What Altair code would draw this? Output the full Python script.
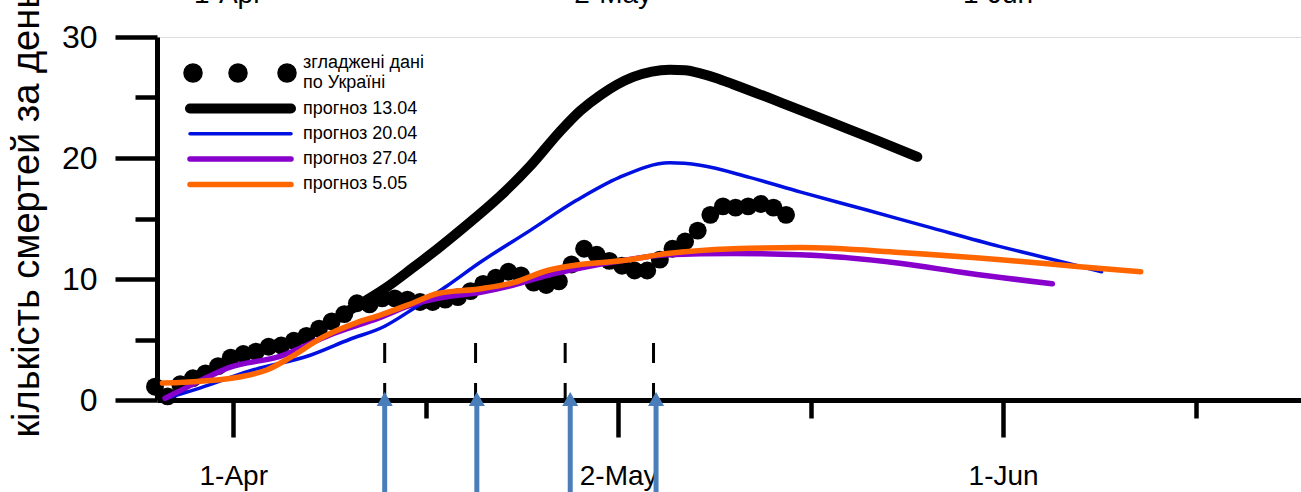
import altair as alt
import pandas as pd

# x values are days counted from 1 April (day 0 = 1-Apr)
dot_day = list(range(-6, 45))
dot_val = [1.1, 0.3, 1.3, 1.8, 2.2, 2.8, 3.5, 3.8, 4.0, 4.4, 4.5, 4.9, 5.3, 5.9, 6.5, 7.1,
           8.0, 7.9, 8.4, 8.4, 8.3, 8.1, 8.1, 8.3, 8.5, 9.0, 9.6, 10.1, 10.6, 10.3, 9.7,
           9.5, 9.8, 11.2, 12.5, 12.0, 11.5, 11.1, 10.7, 10.7, 11.6, 12.5, 13.1, 14.0,
           15.3, 16.0, 15.9, 16.0, 16.2, 15.9, 15.3]

black_day = [8.7, 10.2, 12.2, 14.4, 16.4, 18.4, 21.3, 23.7, 26.1, 27.7, 29.3, 31.9,
             34.8, 36.0, 37.2, 38.5, 39.8, 43.8, 47.7, 51.1, 54.4]
black_val = [7.0, 7.9, 9.2, 10.9, 12.5, 14.2, 16.8, 19.3, 22.2, 23.9, 25.2, 26.7,
             27.3, 27.25, 27.0, 26.6, 26.1, 24.5, 22.9, 21.5, 20.1]

blue_day = [-5.2, -2.4, 1.5, 6.3, 9.4, 12.2, 14.4, 17.1, 19.8, 23.7, 27.4, 30.8, 34.8,
            37.2, 41.1, 45.1, 50.4, 55.6, 60.9, 63.6, 66.3, 69.0]
blue_val = [0.1, 1.0, 2.4, 3.7, 5.0, 6.1, 7.5, 9.4, 11.4, 14.0, 16.5, 18.4, 19.6,
            19.4, 18.4, 17.2, 15.7, 14.2, 12.7, 12.0, 11.3, 10.6]

purple_day = [-5.2, -2.4, -0.1, 3.9, 7.9, 11.8, 14.4, 16.4, 19.8, 22.4, 25.1, 27.7,
              30.9, 34.6, 39.8, 45.1, 53.0, 58.3, 65.1]
purple_val = [0.15, 1.6, 2.7, 3.6, 5.4, 6.8, 7.9, 8.4, 8.9, 9.5, 10.3, 10.9,
              11.5, 12.0, 12.1, 12.0, 11.3, 10.5, 9.6]

orange_day = [-5.4, -2.4, 0.7, 2.9, 4.7, 7.3, 10.0, 11.8, 14.4, 16.4, 19.8, 22.4, 25.1,
              27.7, 30.9, 34.6, 39.8, 45.1, 53.0, 61.0, 67.5, 72.1]
orange_val = [1.4, 1.55, 1.9, 2.5, 3.5, 5.2, 6.4, 7.0, 8.0, 8.8, 9.2, 9.7, 10.7,
              11.2, 11.5, 12.1, 12.5, 12.6, 12.2, 11.6, 11.0, 10.6]

tick_major = [0.2, 30.7, 61.2]
tick_major_labels = ["1-Apr", "2-May", "1-Jun"]
tick_minor = [15.45, 45.95, 76.45]
y_ticks = [0, 5, 10, 15, 20, 25, 30]

dash_days = [12.2, 19.4, 26.5, 33.5]
arrow_days = [12.2, 19.5, 26.9, 33.7]

legend_dots_label = ["згладжені дані", "по Україні"]
legend_line_labels = ["прогноз 13.04", "прогноз 20.04", "прогноз 27.04", "прогноз 5.05"]
y_title = "кількість смертей за день"

# styles
FONT = "Liberation Sans"
line_colors = ["#000000", "#0010e0", "#8800cc", "#ff6600"]
line_widths = [10, 3.5, 5.5, 5.5]
ARROW = "#4a7ebb"

XS = alt.Scale(domain=[-5.84, 84.8], nice=False, zero=False)
YS = alt.Scale(domain=[0, 30], nice=False, zero=False)

major_test = "indexof([" + ",".join(str(v) for v in tick_major) + "], datum.value) >= 0"
label_expr = ""
for v, lab in zip(tick_major, tick_major_labels):
    label_expr += f"datum.value === {v} ? '{lab}' : "
label_expr += "''"

x_axis = alt.Axis(
    values=tick_major + tick_minor, labelExpr=label_expr,
    tickSize={"condition": {"test": major_test, "value": 37}, "value": 18},
    tickWidth=4.5, tickColor="black", domainColor="black", domainWidth=5,
    labelFontSize=28, labelColor="black", labelFont=FONT, labelPadding=47,
    labelBaseline="alphabetic", labelFlush=False, labelOverlap=False, labelBound=False,
    grid=False, title=None)

y_axis = alt.Axis(
    values=y_ticks, labelExpr="datum.value % 10 === 0 ? datum.label : ''",
    tickSize={"condition": {"test": "datum.value % 10 === 0", "value": 42}, "value": 22},
    tickWidth=4.5, tickColor="black", domainColor="black", domainWidth=5,
    labelFontSize=32, labelColor="black", labelFont=FONT, labelPadding=18,
    labelFlush=False, labelOverlap=False, grid=False,
    title=y_title, titleFontSize=38, titleFontWeight="normal", titleFont=FONT,
    titleColor="black", titleAngle=270, titleAlign="left", titleBaseline="middle",
    titleX=-130, titleY=400)

dots_df = pd.DataFrame({"day": dot_day, "val": dot_val})
layers = [
    alt.Chart(dots_df).mark_circle(size=320, color="black", opacity=1).encode(
        x=alt.X("day:Q", scale=XS, axis=x_axis),
        y=alt.Y("val:Q", scale=YS, axis=y_axis))
]

series = [(black_day, black_val), (blue_day, blue_val), (purple_day, purple_val),
          (orange_day, orange_val)]
for (d, v), c, w in zip(series, line_colors, line_widths):
    layers.append(
        alt.Chart(pd.DataFrame({"day": d, "val": v})).mark_line(
            color=c, strokeWidth=w, interpolate="monotone", strokeCap="round").encode(
            x=alt.X("day:Q", scale=XS), y=alt.Y("val:Q", scale=YS)))

# dashed markers of forecast dates
layers.append(
    alt.Chart(pd.DataFrame({"day": dash_days})).mark_rule(
        color="black", strokeWidth=3, strokeDash=[20, 20]).encode(
        x=alt.X("day:Q", scale=XS), y=alt.value(306), y2=alt.value(363)))

# blue arrows
arrow_df = pd.DataFrame({"day": arrow_days})
layers.append(
    alt.Chart(arrow_df).mark_rule(color=ARROW, strokeWidth=5).encode(
        x=alt.X("day:Q", scale=XS), y=alt.value(366), y2=alt.value(470)))
layers.append(
    alt.Chart(arrow_df).mark_point(shape="triangle-up", filled=True, size=256,
                                   color=ARROW, opacity=1).encode(
        x=alt.X("day:Q", scale=XS), y=alt.value(362)))

# top (cut-off) date labels
layers.append(
    alt.Chart(pd.DataFrame({"day": tick_major, "label": tick_major_labels})).mark_text(
        fontSize=28, font=FONT, baseline="alphabetic", color="black", dx=-5).encode(
        x=alt.X("day:Q", scale=XS), y=alt.value(-34), text="label:N"))

# legend
one = pd.DataFrame({"a": [0]})
for lx in [36, 81, 130]:
    layers.append(alt.Chart(one).mark_circle(size=380, color="black", opacity=1).encode(
        x=alt.value(lx), y=alt.value(36)))
for lab, ly in zip(legend_dots_label, [26, 46]):
    layers.append(alt.Chart(pd.DataFrame({"label": [lab]})).mark_text(
        fontSize=18, font=FONT, align="left", baseline="middle", color="black").encode(
        x=alt.value(146), y=alt.value(ly), text="label:N"))
for i, (lab, c, w) in enumerate(zip(legend_line_labels, line_colors, line_widths)):
    ly = 71.5 + 25.3 * i
    layers.append(alt.Chart(one).mark_rule(color=c, strokeWidth=w, strokeCap="round").encode(
        x=alt.value(33), x2=alt.value(134), y=alt.value(ly)))
    layers.append(alt.Chart(pd.DataFrame({"label": [lab]})).mark_text(
        fontSize=18, font=FONT, align="left", baseline="middle", color="black").encode(
        x=alt.value(146), y=alt.value(ly), text="label:N"))

chart = alt.layer(*layers).properties(
    width=1144, height=363,
    autosize=alt.AutoSizeParams(type="none"),
    padding={"left": 157, "top": 37, "right": 0, "bottom": 92},
    background="white",
).configure_view(stroke=None).configure(font=FONT)

chart.save("out.html", embed_options={"renderer": "svg", "actions": False})
